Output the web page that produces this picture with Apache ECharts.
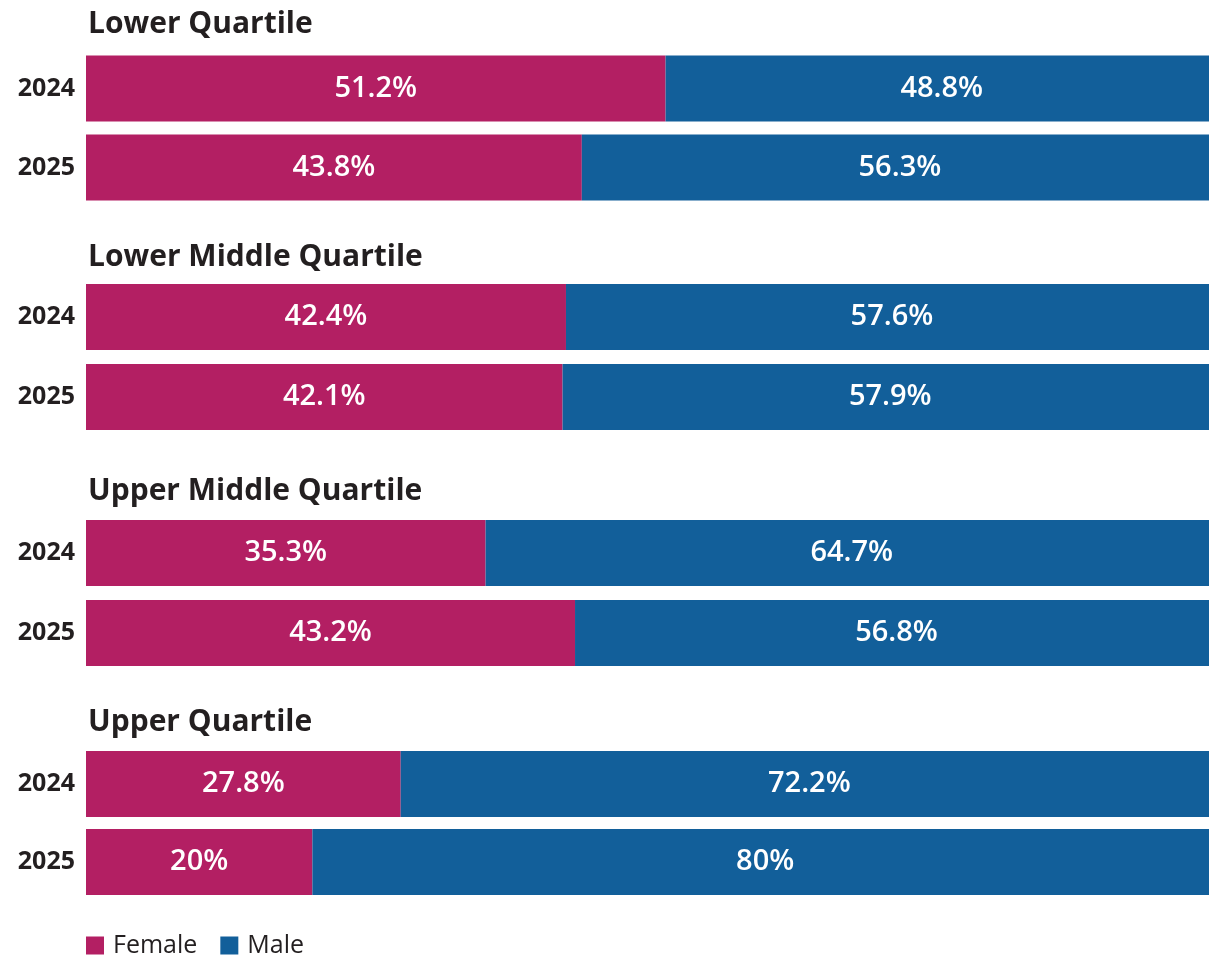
<!DOCTYPE html>
<html lang="en">
<head>
    <meta charset="UTF-8">
    <title>Pay quartiles by gender</title>
    <style>
        body { margin: 0; overflow: hidden; background: #fff; }
        #chart { width: 1209px; height: 956px; }
    </style>
</head>
<body>
    <div id="chart"></div>
    <script src="https://cdn.jsdelivr.net/npm/echarts@6/dist/echarts.min.js"></script>
    <script>
        // data
        var years = ['2024', '2025'];
        var quartiles = ['Lower Quartile', 'Lower Middle Quartile', 'Upper Middle Quartile', 'Upper Quartile'];
        var female = [[51.2, 43.8], [42.4, 42.1], [35.3, 43.2], [27.8, 20]];
        var male = [[48.8, 56.3], [57.6, 57.9], [64.7, 56.8], [72.2, 80]];

        var FEMALE_COLOR = '#b31f63';
        var MALE_COLOR = '#125f9a';
        var TEXT = '#231f20';
        var FONT = '"Open Sans", Lato, sans-serif';

        // layout per group (bar centre rows)
        var gridTops = [49, 277, 513, 745];
        var gridHeights = [158, 160, 160, 156];
        var titleTops = [4, 237, 471, 702];

        var grids = [], xAxes = [], yAxes = [], titles = [], series = [];

        quartiles.forEach(function (q, i) {
            // bars run a little past the right edge of the picture
            grids.push({
                left: 86, width: 1132, top: gridTops[i], height: gridHeights[i],
                outerBoundsMode: 'none'
            });
            xAxes.push({ gridIndex: i, type: 'value', min: 0, max: 100, show: false });
            yAxes.push({
                gridIndex: i,
                type: 'category',
                data: years,
                inverse: true,
                axisLine: { show: false },
                axisTick: { show: false },
                axisLabel: { color: TEXT, fontFamily: FONT, fontWeight: 'bold', fontSize: 25, margin: 11 }
            });
            titles.push({
                text: q,
                left: 83,
                top: titleTops[i],
                textStyle: { color: TEXT, fontFamily: FONT, fontWeight: 'bold', fontSize: 30 }
            });

            var lbl = {
                show: true,
                position: 'inside',
                color: '#fff',
                fontFamily: FONT,
                fontWeight: 600,
                fontSize: 29,
                formatter: function (p) { return p.value + '%'; }
            };
            series.push({
                name: 'Female', type: 'bar', stack: 'q' + i,
                xAxisIndex: i, yAxisIndex: i,
                barWidth: 66,
                itemStyle: { color: FEMALE_COLOR },
                label: lbl,
                data: female[i]
            });
            series.push({
                name: 'Male', type: 'bar', stack: 'q' + i,
                xAxisIndex: i, yAxisIndex: i,
                barWidth: 66,
                itemStyle: { color: MALE_COLOR },
                label: lbl,
                data: male[i]
            });
        });

        var myChart = echarts.init(document.getElementById('chart'));
        myChart.setOption({
            animation: false,
            title: titles,
            grid: grids,
            xAxis: xAxes,
            yAxis: yAxes,
            legend: {
                data: ['Female', 'Male'],
                left: 81,
                top: 928,
                icon: 'rect',
                itemWidth: 18,
                itemHeight: 18,
                itemGap: 23,
                textStyle: { color: TEXT, fontFamily: FONT, fontSize: 25, padding: [0, 0, 0, 4] }
            },
            series: series
        });
    </script>
</body>
</html>
